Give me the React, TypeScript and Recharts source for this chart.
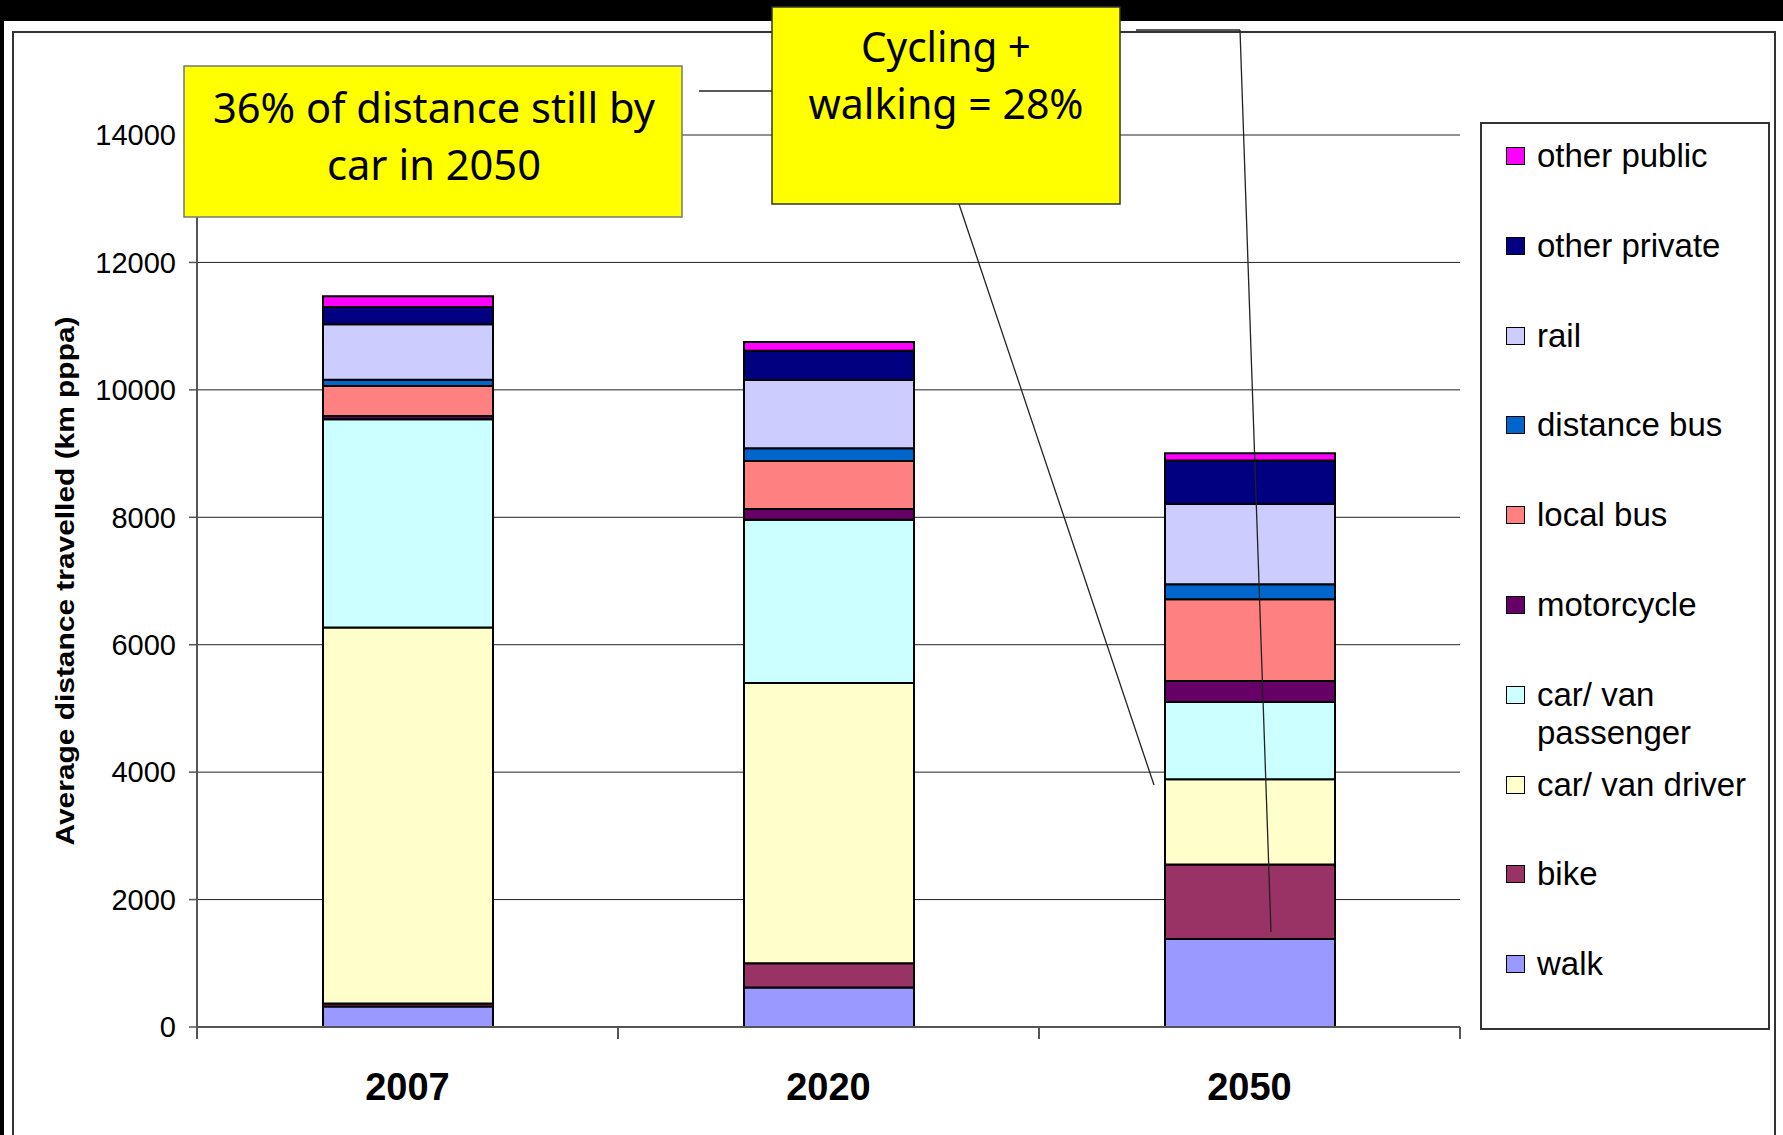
import { BarChart, Bar, XAxis, YAxis, CartesianGrid, Legend, Label } from 'recharts'

const years = ['2007', '2020', '2050']

// km per person per annum, bottom of the stack first
const walk = [320, 620, 1380]
const bike = [50, 380, 1170]
const carDriver = [5900, 4400, 1340]
const carPassenger = [3270, 2560, 1210]
const motorcycle = [50, 170, 330]
const localBus = [470, 755, 1285]
const distanceBus = [100, 200, 235]
const rail = [870, 1070, 1260]
const otherPrivate = [270, 460, 680]
const otherPublic = [170, 135, 115]

const yTicks = [0, 2000, 4000, 6000, 8000, 10000, 12000, 14000]

const series = [
  { key: 'walk', name: 'walk', color: '#9999FF', values: walk },
  { key: 'bike', name: 'bike', color: '#993366', values: bike },
  { key: 'carDriver', name: 'car/ van driver', color: '#FFFFCC', values: carDriver },
  { key: 'carPassenger', name: 'car/ van passenger', color: '#CCFFFF', values: carPassenger },
  { key: 'motorcycle', name: 'motorcycle', color: '#660066', values: motorcycle },
  { key: 'localBus', name: 'local bus', color: '#FF8080', values: localBus },
  { key: 'distanceBus', name: 'distance bus', color: '#0066CC', values: distanceBus },
  { key: 'rail', name: 'rail', color: '#CCCCFF', values: rail },
  { key: 'otherPrivate', name: 'other private', color: '#000080', values: otherPrivate },
  { key: 'otherPublic', name: 'other public', color: '#FF00FF', values: otherPublic },
]

const data = years.map((year, i) => {
  const row: Record<string, string | number> = { year }
  for (const s of series) row[s.key] = s.values[i]
  return row
})

const ARIAL = "'Liberation Sans', Arial, sans-serif"
const CALIBRI = "'Noto Sans', 'Open Sans', sans-serif"

// legend lists the top of the stack first, like the original
const renderLegend = () => {
  const items = [...series].reverse()
  return (
    <div
      style={{
        position: 'relative',
        width: 290,
        height: 908,
        boxSizing: 'border-box',
        border: '2px solid #333',
        background: '#fff',
        fontFamily: ARIAL,
        fontSize: 33,
        lineHeight: '38px',
        color: '#000',
      }}
    >
      {items.map((s, i) => (
        <div key={s.key} style={{ position: 'absolute', left: 24, top: 13 + i * 89.8, width: 262 }}>
          <span
            style={{
              position: 'absolute',
              left: 0,
              top: 10,
              width: 17,
              height: 16,
              background: s.color,
              border: '1.5px solid #000',
            }}
          />
          <div style={{ marginLeft: 31, width: 226 }}>{s.name}</div>
        </div>
      ))}
    </div>
  )
}

// eslint-disable-next-line @typescript-eslint/no-explicit-any
const renderYLabel = (props: any) => {
  const vb = props.viewBox
  const cx = vb.x - 32
  const cy = vb.y + vb.height / 2
  return (
    <text
      x={cx}
      y={cy}
      transform={`rotate(-90, ${cx}, ${cy})`}
      textAnchor="middle"
      dominantBaseline="central"
      fontFamily={ARIAL}
      fontWeight="bold"
      fontSize={26}
      textLength={529}
      lengthAdjust="spacingAndGlyphs"
      fill="#000"
    >
      Average distance travelled (km pppa)
    </text>
  )
}

// year label plus the category-boundary tick marks (Excel puts ticks between categories)
// eslint-disable-next-line @typescript-eslint/no-explicit-any
const YearTick = (props: any) => {
  const { x, y, payload, index, visibleTicksCount } = props
  const half = payload?.offset ?? 0
  const last = index === (visibleTicksCount ?? 3) - 1
  return (
    <g>
      <line x1={x - half} y1={y} x2={x - half} y2={y + 12} stroke="#555" strokeWidth={2} />
      {last && <line x1={x + half} y1={y} x2={x + half} y2={y + 12} stroke="#555" strokeWidth={2} />}
      <text
        x={x}
        y={y + 60}
        textAnchor="middle"
        dominantBaseline="central"
        fontFamily={ARIAL}
        fontWeight="bold"
        fontSize={38}
        fill="#000"
      >
        {payload.value}
      </text>
    </g>
  )
}

function Callouts() {
  const txt = {
    fontFamily: CALIBRI,
    fontSize: 41,
    textAnchor: 'middle' as const,
    lengthAdjust: 'spacingAndGlyphs',
    fill: '#000',
  }
  return (
    <svg
      width={1783}
      height={1135}
      style={{ position: 'absolute', left: 0, top: 0, pointerEvents: 'none' }}
    >
      <g stroke="#222" strokeWidth={1.3}>
        <line x1={699} y1={91} x2={772} y2={91} />
        <line x1={1136} y1={30} x2={1240} y2={30} />
        <line x1={1240} y1={30} x2={1271} y2={932} />
        <line x1={959} y1={204} x2={1154} y2={785} />
      </g>
      <rect x={184} y={66} width={498} height={151} fill="#FFFF00" stroke="#777" strokeWidth={1.5} />
      <text x={434} y={123} textLength={442} {...txt}>36% of distance still by</text>
      <text x={434} y={180} textLength={214} {...txt}>car in 2050</text>
      <rect x={772} y={7} width={348} height={197} fill="#FFFF00" stroke="#333" strokeWidth={1.5} />
      <text x={946} y={62} textLength={170} {...txt}>Cycling +</text>
      <text x={946} y={119} textLength={275} {...txt}>walking = 28%</text>
    </svg>
  )
}

export default function App() {
  return (
    <div style={{ position: 'absolute', left: 0, top: 0, width: 1783, height: 1135, background: '#000', overflow: 'hidden' }}>
      <div style={{ position: 'absolute', left: 4, top: 21, width: 1779, height: 1114, background: '#fff' }} />
      <div
        style={{
          position: 'absolute',
          left: 12,
          top: 31,
          width: 1764,
          height: 1200,
          boxSizing: 'border-box',
          border: '2px solid #333',
        }}
      />
      <BarChart
        width={1783}
        height={1135}
        data={data}
        margin={{ top: 135, left: 97, right: 33, bottom: 48 }}
        style={{ position: 'absolute', left: 0, top: 0 }}
      >
        <CartesianGrid vertical={false} stroke="#222" strokeWidth={1} />
        <XAxis
          dataKey="year"
          height={60}
          axisLine={{ stroke: '#555', strokeWidth: 2 }}
          tickLine={false}
          tickSize={0}
          tickMargin={0}
          tick={<YearTick />}
        />
        <YAxis
          width={100}
          domain={[0, 14000]}
          ticks={yTicks}
          interval={0}
          tickSize={8}
          tickMargin={13}
          tick={{ fill: '#000', fontSize: 29, fontFamily: ARIAL }}
          axisLine={{ stroke: '#555', strokeWidth: 2 }}
          tickLine={{ stroke: '#555', strokeWidth: 1.5 }}
          label={<Label content={renderYLabel} />}
        />
        <YAxis
          yAxisId="r"
          orientation="right"
          width={0}
          domain={[0, 14000]}
          tick={false}
          tickLine={false}
          axisLine={{ stroke: '#999', strokeWidth: 2 }}
        />
        <Legend
          layout="vertical"
          align="right"
          verticalAlign="top"
          wrapperStyle={{ left: 1480, top: 122, width: 290, height: 908 }}
          content={renderLegend}
        />
        {series.map((s) => (
          <Bar
            key={s.key}
            dataKey={s.key}
            name={s.name}
            stackId="a"
            fill={s.color}
            stroke="#000"
            strokeWidth={2}
            barSize={170}
            isAnimationActive={false}
          />
        ))}
      </BarChart>
      <Callouts />
    </div>
  )
}
